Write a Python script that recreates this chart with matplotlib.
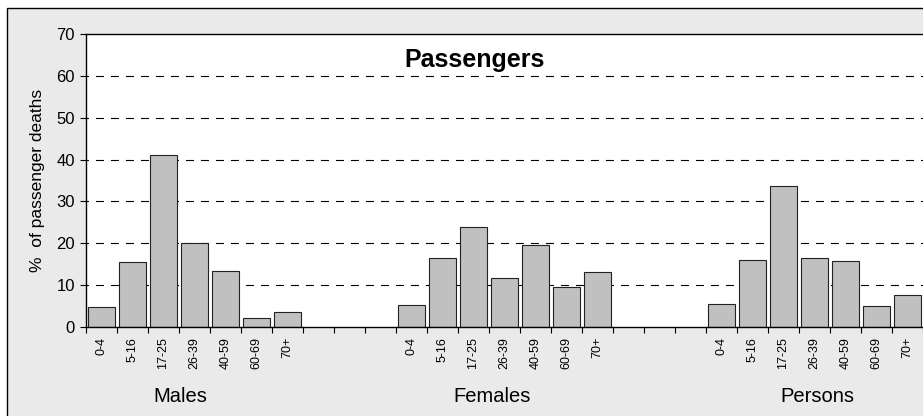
import numpy as np
import matplotlib
matplotlib.use('Agg')
from matplotlib import pyplot as plt
from matplotlib.patches import Rectangle
from matplotlib.ticker import FixedLocator, NullFormatter
from matplotlib.transforms import blended_transform_factory

plt.rcParams['font.family'] = ['Liberation Sans', 'DejaVu Sans']

age_groups = ['0-4', '5-16', '17-25', '26-39', '40-59', '60-69', '70+']
groups = ['Males', 'Females', 'Persons']
males = [4.7, 15.5, 41.0, 20.0, 13.3, 2.1, 3.5]
females = [5.2, 16.6, 24.0, 11.6, 19.7, 9.5, 13.1]
persons = [5.4, 15.9, 33.8, 16.5, 15.8, 5.0, 7.6]

W, H = 923, 416
fig = plt.figure(figsize=(W / 100, H / 100), dpi=100, facecolor='white')

# grey panel with black frame (right/bottom run off the picture)
fig.patches.append(Rectangle((7.5 / W, -0.1), 1.2, (H - 7.5) / H + 0.1,
                             transform=fig.transFigure, facecolor='#eaeaea',
                             edgecolor='black', linewidth=1, zorder=-5))

ax = fig.add_axes([86 / W, (H - 327) / H, (W - 86) / W, (327 - 34) / H])
ax.set_facecolor('white')

gap = 3
n = len(age_groups)
positions = []
labels = []
for g, vals in enumerate([males, females, persons]):
    off = g * (n + gap)
    x = np.arange(n) + off
    ax.bar(x, vals, width=0.84, color='#c0c0c0', edgecolor='#222222',
           linewidth=0.8, zorder=3)
    positions.extend(x)
    labels.extend(age_groups)

nslots = 3 * n + 2 * gap
ax.set_xlim(-0.5, nslots - 0.5)
ax.set_ylim(0, 70)
ax.set_yticks(range(0, 71, 10))
ax.tick_params(axis='y', direction='out', length=4, width=0.8, labelsize=12, pad=4)

ax.set_xticks(positions)
ax.set_xticklabels(labels, rotation=90, fontsize=9)
ax.tick_params(axis='x', which='major', length=0, pad=7)
ax.xaxis.set_minor_locator(FixedLocator(np.arange(nslots + 1) - 0.5))
ax.xaxis.set_minor_formatter(NullFormatter())
ax.tick_params(axis='x', which='minor', direction='out', length=4, width=0.8)

for y in range(10, 70, 10):
    ax.axhline(y, color='black', linewidth=0.8, linestyle=(5, (7.2, 6.3)), zorder=1)

ax.spines['right'].set_visible(False)
for s in ['left', 'top', 'bottom']:
    ax.spines[s].set_linewidth(1)
    ax.spines[s].set_color('black')
    ax.spines[s].set_zorder(4)

ax.set_ylabel('%  of passenger deaths', fontsize=12.5, labelpad=8)

label_x = [2.55, 12.6, 23.1]
trans = blended_transform_factory(ax.transData, fig.transFigure)
for gx, name in zip(label_x, groups):
    ax.text(gx, (H - 401.5) / H, name, fontsize=14.5, ha='center',
            va='baseline', transform=trans)

fig.text(475 / W, (H - 66.5) / H, 'Passengers', fontsize=18, fontweight='bold',
         ha='center', va='baseline')

fig.savefig('out.png', dpi=100, facecolor=fig.get_facecolor())
